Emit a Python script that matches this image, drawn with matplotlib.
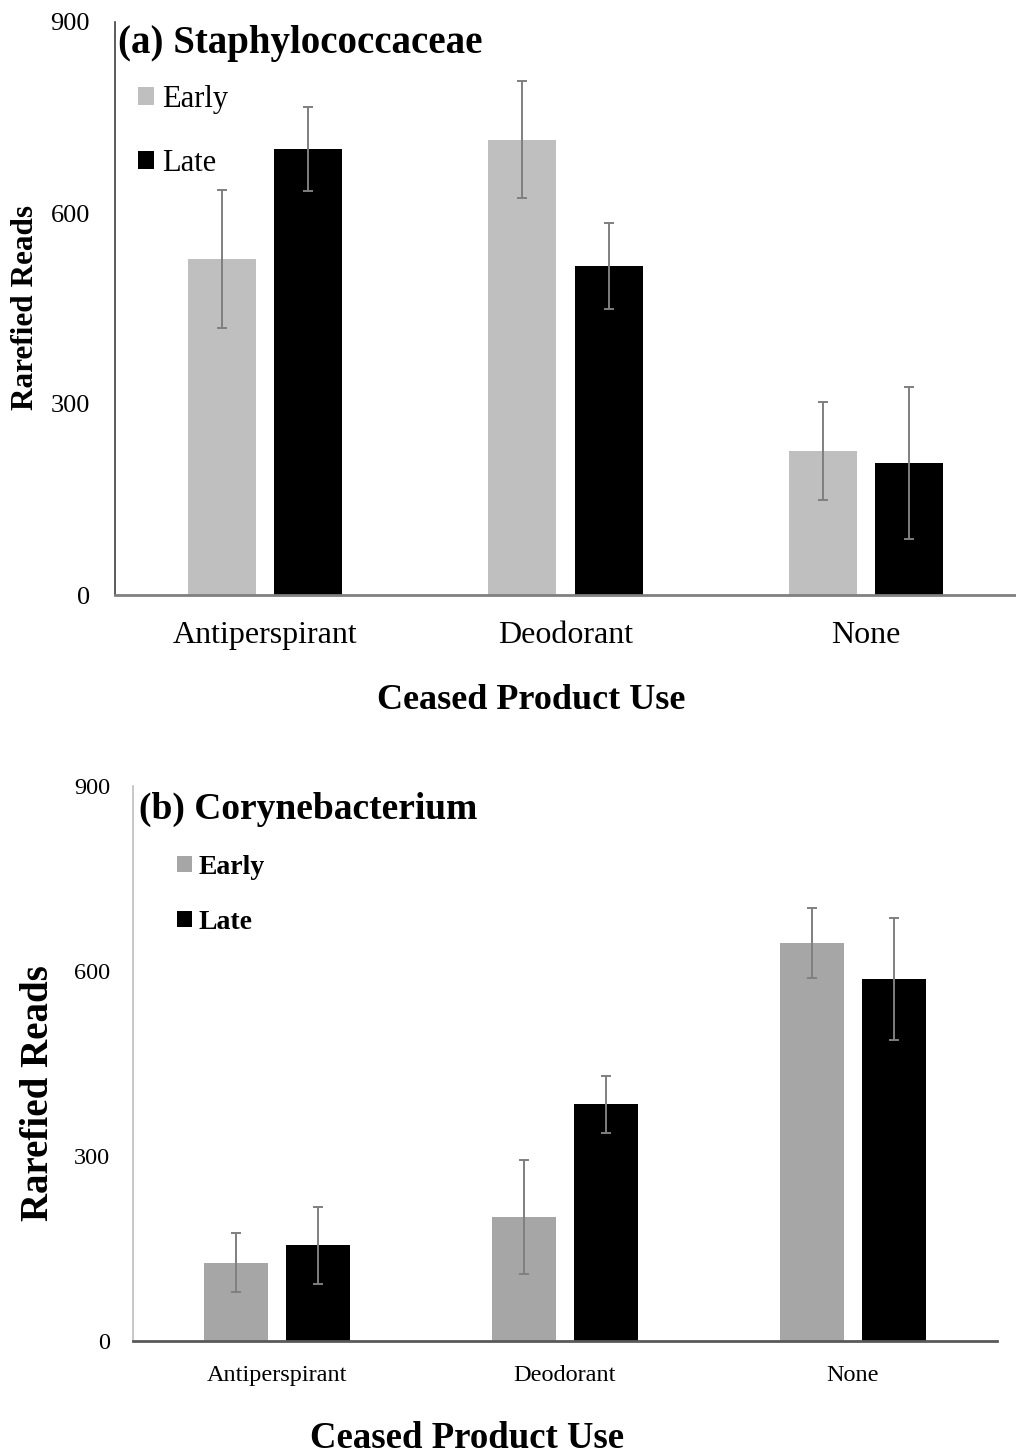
import numpy as np
import matplotlib
matplotlib.use("Agg")
import matplotlib.pyplot as plt

plt.rcParams['font.family'] = ['Liberation Serif', 'DejaVu Serif']

categories = ['Antiperspirant', 'Deodorant', 'None']
yticks = [0, 300, 600, 900]

# (a) Staphylococcaceae
staph_early = [528, 715, 226]
staph_early_err = [108, 92, 77]
staph_late = [700, 517, 207]
staph_late_err = [66, 67, 119]

# (b) Corynebacterium
coryne_early = [127, 201, 645]
coryne_early_err = [48, 92, 57]
coryne_late = [155, 384, 587]
coryne_late_err = [62, 46, 99]

W, H = 1016, 1456
fig = plt.figure(figsize=(W / 100, H / 100), dpi=100)


def fx(px):
    return px / W


def fy(py):
    return 1 - py / H


def panel(rect, early, early_err, late, late_err, early_color, width, offset,
          ytick_size, ytick_pad, xtick_size, xtick_pad, left_color, bottom_color):
    ax = fig.add_axes(rect)
    x = np.arange(len(categories))
    ekw = dict(ecolor='#7f7f7f', elinewidth=1.4, capthick=1.4)
    ax.bar(x - offset, early, width, color=early_color, yerr=early_err,
           capsize=3.6, error_kw=ekw, label='Early')
    ax.bar(x + offset, late, width, color='black', yerr=late_err,
           capsize=3.6, error_kw=ekw, label='Late')
    ax.set_xlim(-0.5, 2.5)
    ax.set_ylim(0, 900)
    ax.set_yticks(yticks)
    ax.set_xticks(x)
    ax.set_xticklabels(categories)
    ax.tick_params(axis='y', length=0, pad=ytick_pad, labelsize=ytick_size)
    ax.tick_params(axis='x', length=0, pad=xtick_pad, labelsize=xtick_size)
    for s in ['top', 'right']:
        ax.spines[s].set_visible(False)
    ax.spines['left'].set_color(left_color)
    ax.spines['left'].set_linewidth(1.2)
    ax.spines['bottom'].set_color(bottom_color)
    ax.spines['bottom'].set_linewidth(2)
    return ax


# panel (a)
ax1 = panel([fx(115), fy(595), fx(1016) - fx(115), fy(22) - fy(595)],
            staph_early, staph_early_err, staph_late, staph_late_err,
            '#bfbfbf', 0.227, 0.1436, 19, 18, 23, 19, '#404040', '#808080')
fig.text(fx(118), fy(44), '(a) Staphylococcaceae', fontsize=28,
         fontweight='bold', va='center', ha='left')
ax1.legend(loc='upper left', bbox_to_anchor=(fx(138), fy(85)),
           bbox_transform=fig.transFigure, frameon=False, fontsize=22,
           handlelength=0.52, handleheight=0.52, handletextpad=0.26,
           labelspacing=1.15, borderpad=0, borderaxespad=0)
fig.text(fx(26), fy(308), 'Rarefied Reads', rotation=90, fontsize=22.5,
         fontweight='bold', ha='center', va='center')
fig.text(fx(531), fy(700), 'Ceased Product Use', fontsize=26,
         fontweight='bold', ha='center', va='center')

# panel (b)
ax2 = panel([fx(133), fy(1341), fx(997) - fx(133), fy(786) - fy(1341)],
            coryne_early, coryne_early_err, coryne_late, coryne_late_err,
            '#a6a6a6', 0.222, 0.142, 17.5, 16.5, 17.5, 17, '#bfbfbf', '#595959')
fig.text(fx(139), fy(809), '(b) Corynebacterium', fontsize=27,
         fontweight='bold', va='center', ha='left')
ax2.legend(loc='upper left', bbox_to_anchor=(fx(177), fy(855)),
           bbox_transform=fig.transFigure, frameon=False,
           prop={'size': 20, 'weight': 'bold'},
           handlelength=0.54, handleheight=0.54, handletextpad=0.25,
           labelspacing=1.08, borderpad=0, borderaxespad=0)
fig.text(fx(39), fy(1093), 'Rarefied Reads', rotation=90, fontsize=28,
         fontweight='bold', ha='center', va='center')
fig.text(fx(467), fy(1439), 'Ceased Product Use', fontsize=26.5,
         fontweight='bold', ha='center', va='center')

fig.savefig('out.png', dpi=100, facecolor='white')
